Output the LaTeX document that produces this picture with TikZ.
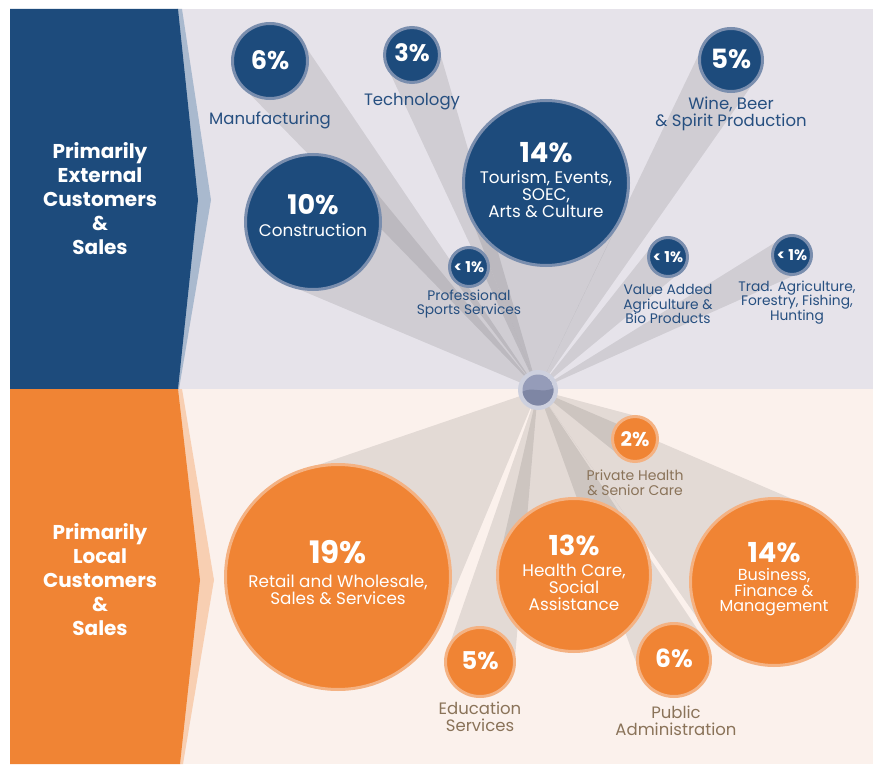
\documentclass[tikz,border=0pt]{standalone}
\usepackage{fontspec}
\setmainfont{Poppins}
\usetikzlibrary{calc}
\definecolor{blueC}{HTML}{1D4B7C}
\definecolor{blueRing}{HTML}{7A8EAE}
\definecolor{orangeC}{HTML}{F08434}
\definecolor{orangeRing}{HTML}{F4B283}
\definecolor{topBg}{HTML}{E6E3EA}
\definecolor{botBg}{HTML}{FBF1EC}
\definecolor{lightBlue}{HTML}{A9B9CE}
\definecolor{lightOrange}{HTML}{F8CFB2}
\definecolor{blueText}{HTML}{264F80}
\definecolor{brownText}{HTML}{8A7359}
\definecolor{hubRing}{HTML}{CDD0DE}
\definecolor{hubLight}{HTML}{959CB9}
\definecolor{hubDark}{HTML}{7E86A4}
\pgfdeclarelayer{bg}
\pgfdeclarelayer{beams}
\pgfsetlayers{bg,beams,main}
\newcommand\mybeam[1]{\fill[beamfill] (hub) -- (tangent cs:node=#1,point={(hub)},solution=1) -- (#1.center) -- (tangent cs:node=#1,point={(hub)},solution=2) -- cycle;}
\begin{document}
\begin{tikzpicture}[x=1pt,y=-1pt,
  bub/.style={circle, inner sep=0pt, outer sep=0pt, line width=3pt},
  bluebub/.style={bub, fill=blueC, draw=blueRing},
  orbub/.style={bub, fill=orangeC, draw=orangeRing},
  pct/.style={text=white, inner sep=0pt, font=\bfseries\fontsize{#1}{#1}\selectfont},
  intext/.style={text=white, align=center, inner sep=0pt, font=\fontsize{16.8}{17}\selectfont},
  lbl/.style={text=blueText, align=center, inner sep=0pt, font=\fontsize{16.5}{17}\selectfont},
  slbl/.style={text=blueText, align=center, inner sep=0pt, font=\fontsize{13.8}{14.5}\selectfont},
  blbl/.style={text=brownText, align=center, inner sep=0pt, font=\fontsize{16.5}{17}\selectfont},
  title/.style={text=white, align=center, inner sep=0pt, font=\bfseries\fontsize{20}{24}\selectfont},
  beamfill/.style={fill=black, fill opacity=0.095}
]
\useasboundingbox (0,0) rectangle (873,765);
\begin{pgfonlayer}{bg}
  \fill[white] (0,0) rectangle (873,765);
  \fill[topBg] (10,9) rectangle (873,389);
  \fill[botBg] (10,389) rectangle (873,764);
  \fill[lightBlue] (177,9) -- (182,9) -- (211,200) -- (179,389) -- (177,389) -- cycle;
  \fill[blueC] (10,9) -- (178,9) -- (198,200) -- (178,389) -- (10,389) -- cycle;
  \fill[lightOrange] (178,389) -- (182,389) -- (214,580) -- (183,764) -- (180,764) -- cycle;
  \fill[orangeC] (10,389) -- (178,389) -- (200,580) -- (180,764) -- (10,764) -- cycle;
\end{pgfonlayer}

\coordinate (hub) at (538,390);

% side titles
\node[title] (ttop) at (100,199) {Primarily\\External\\Customers\\\&\\Sales};
\node[title] (tbot) at (100,580) {Primarily\\Local\\Customers\\\&\\Sales};

% top circles
\node[bluebub, minimum size=75pt] (cman) at (270,61) {};
\node[bluebub, minimum size=55pt] (ctec) at (412,55) {};
\node[bluebub, minimum size=135pt] (ccon) at (313,222) {};
\node[bluebub, minimum size=165pt] (ctou) at (546,183) {};
\node[bluebub, minimum size=63pt] (cwin) at (731,60) {};
\node[bluebub, minimum size=39pt] (cpro) at (469,267) {};
\node[bluebub, minimum size=39pt] (cval) at (668,257) {};
\node[bluebub, minimum size=39pt] (ctra) at (792,255) {};

% bottom circles
\node[orbub, minimum size=225pt] (cret) at (338,577) {};
\node[orbub, minimum size=69pt] (cedu) at (480,662) {};
\node[orbub, minimum size=153pt] (chea) at (574,575) {};
\node[orbub, minimum size=45pt] (cpri) at (635,439) {};
\node[orbub, minimum size=73pt] (cpub) at (674,660) {};
\node[orbub, minimum size=167pt] (cbus) at (774,582) {};

\begin{pgfonlayer}{beams}
  \mybeam{cman}\mybeam{ctec}\mybeam{ccon}\mybeam{ctou}
  \mybeam{cwin}\mybeam{cpro}\mybeam{cval}\mybeam{ctra}
  \mybeam{cret}\mybeam{cedu}\mybeam{chea}\mybeam{cpri}
  \mybeam{cpub}\mybeam{cbus}
\end{pgfonlayer}

% hub
\fill[hubRing] (hub) circle[radius=20];
\begin{scope}
  \clip (hub) circle[radius=15.5];
  \fill[hubLight] (hub) circle[radius=15.5];
  \fill[hubDark] ($(hub)+(-16,2)$) .. controls ($(hub)+(-6,-4)$) and ($(hub)+(4,4)$) .. ($(hub)+(16,-2)$) -- ($(hub)+(16,16)$) -- ($(hub)+(-16,16)$) -- cycle;
\end{scope}

% top texts
\node[pct=25.5] (p6) at (270,60) {6\%};
\node[lbl] (lman) at (270,120.5) {Manufacturing};
\node[pct=24] (p3) at (412,53) {3\%};
\node[lbl] (ltec) at (412,101.5) {Technology};
\node[pct=27] (p10) at (313,205) {10\%};
\node[intext] (lcon) at (313,230) {Construction};
\node[pct=27.5] (p14a) at (546,153) {14\%};
\node[intext] (ltou) at (546,194) {Tourism, Events,\\SOEC,\\Arts \& Culture};
\node[pct=26.5] (p5a) at (731,59) {5\%};
\node[lbl] (lwin) at (731,114) {Wine, Beer\\\& Spirit Production};
\node[pct=15] (p1a) at (469,267) {< 1\%};
\node[slbl] (lpro) at (469,304) {Professional\\Sports Services};
\node[pct=15] (p1b) at (668,257) {< 1\%};
\node[slbl] (lval) at (668,304) {Value Added\\Agriculture \&\\Bio Products};
\node[pct=15] (p1c) at (792,255) {< 1\%};
\node[slbl] (ltra) at (797,302.5) {Trad. Agriculture,\\Forestry, Fishing,\\Hunting};

% bottom texts
\node[pct=31] (p19) at (338,552) {19\%};
\node[intext] (lret) at (338,589.5) {Retail and Wholesale,\\Sales \& Services};
\node[pct=24.5] (p5b) at (480,661) {5\%};
\node[blbl] (ledu) at (480,717) {Education\\Services};
\node[pct=27.5] (p13) at (574,545) {13\%};
\node[intext] (lhea) at (574,587.5) {Health Care,\\Social\\Assistance};
\node[pct=20] (p2) at (635,439) {2\%};
\node[blbl, font=\fontsize{14}{15}\selectfont] (lpri) at (635,483) {Private Health\\\& Senior Care};
\node[pct=25] (p6b) at (674,658) {6\%};
\node[blbl] (lpub) at (676,721) {Public\\Administration};
\node[pct=27.5] (p14b) at (774,553) {14\%};
\node[intext, font=\fontsize{16}{15.5}\selectfont] (lbus) at (774,592.5) {Business,\\Finance \&\\Management};
\end{tikzpicture}
\end{document}
